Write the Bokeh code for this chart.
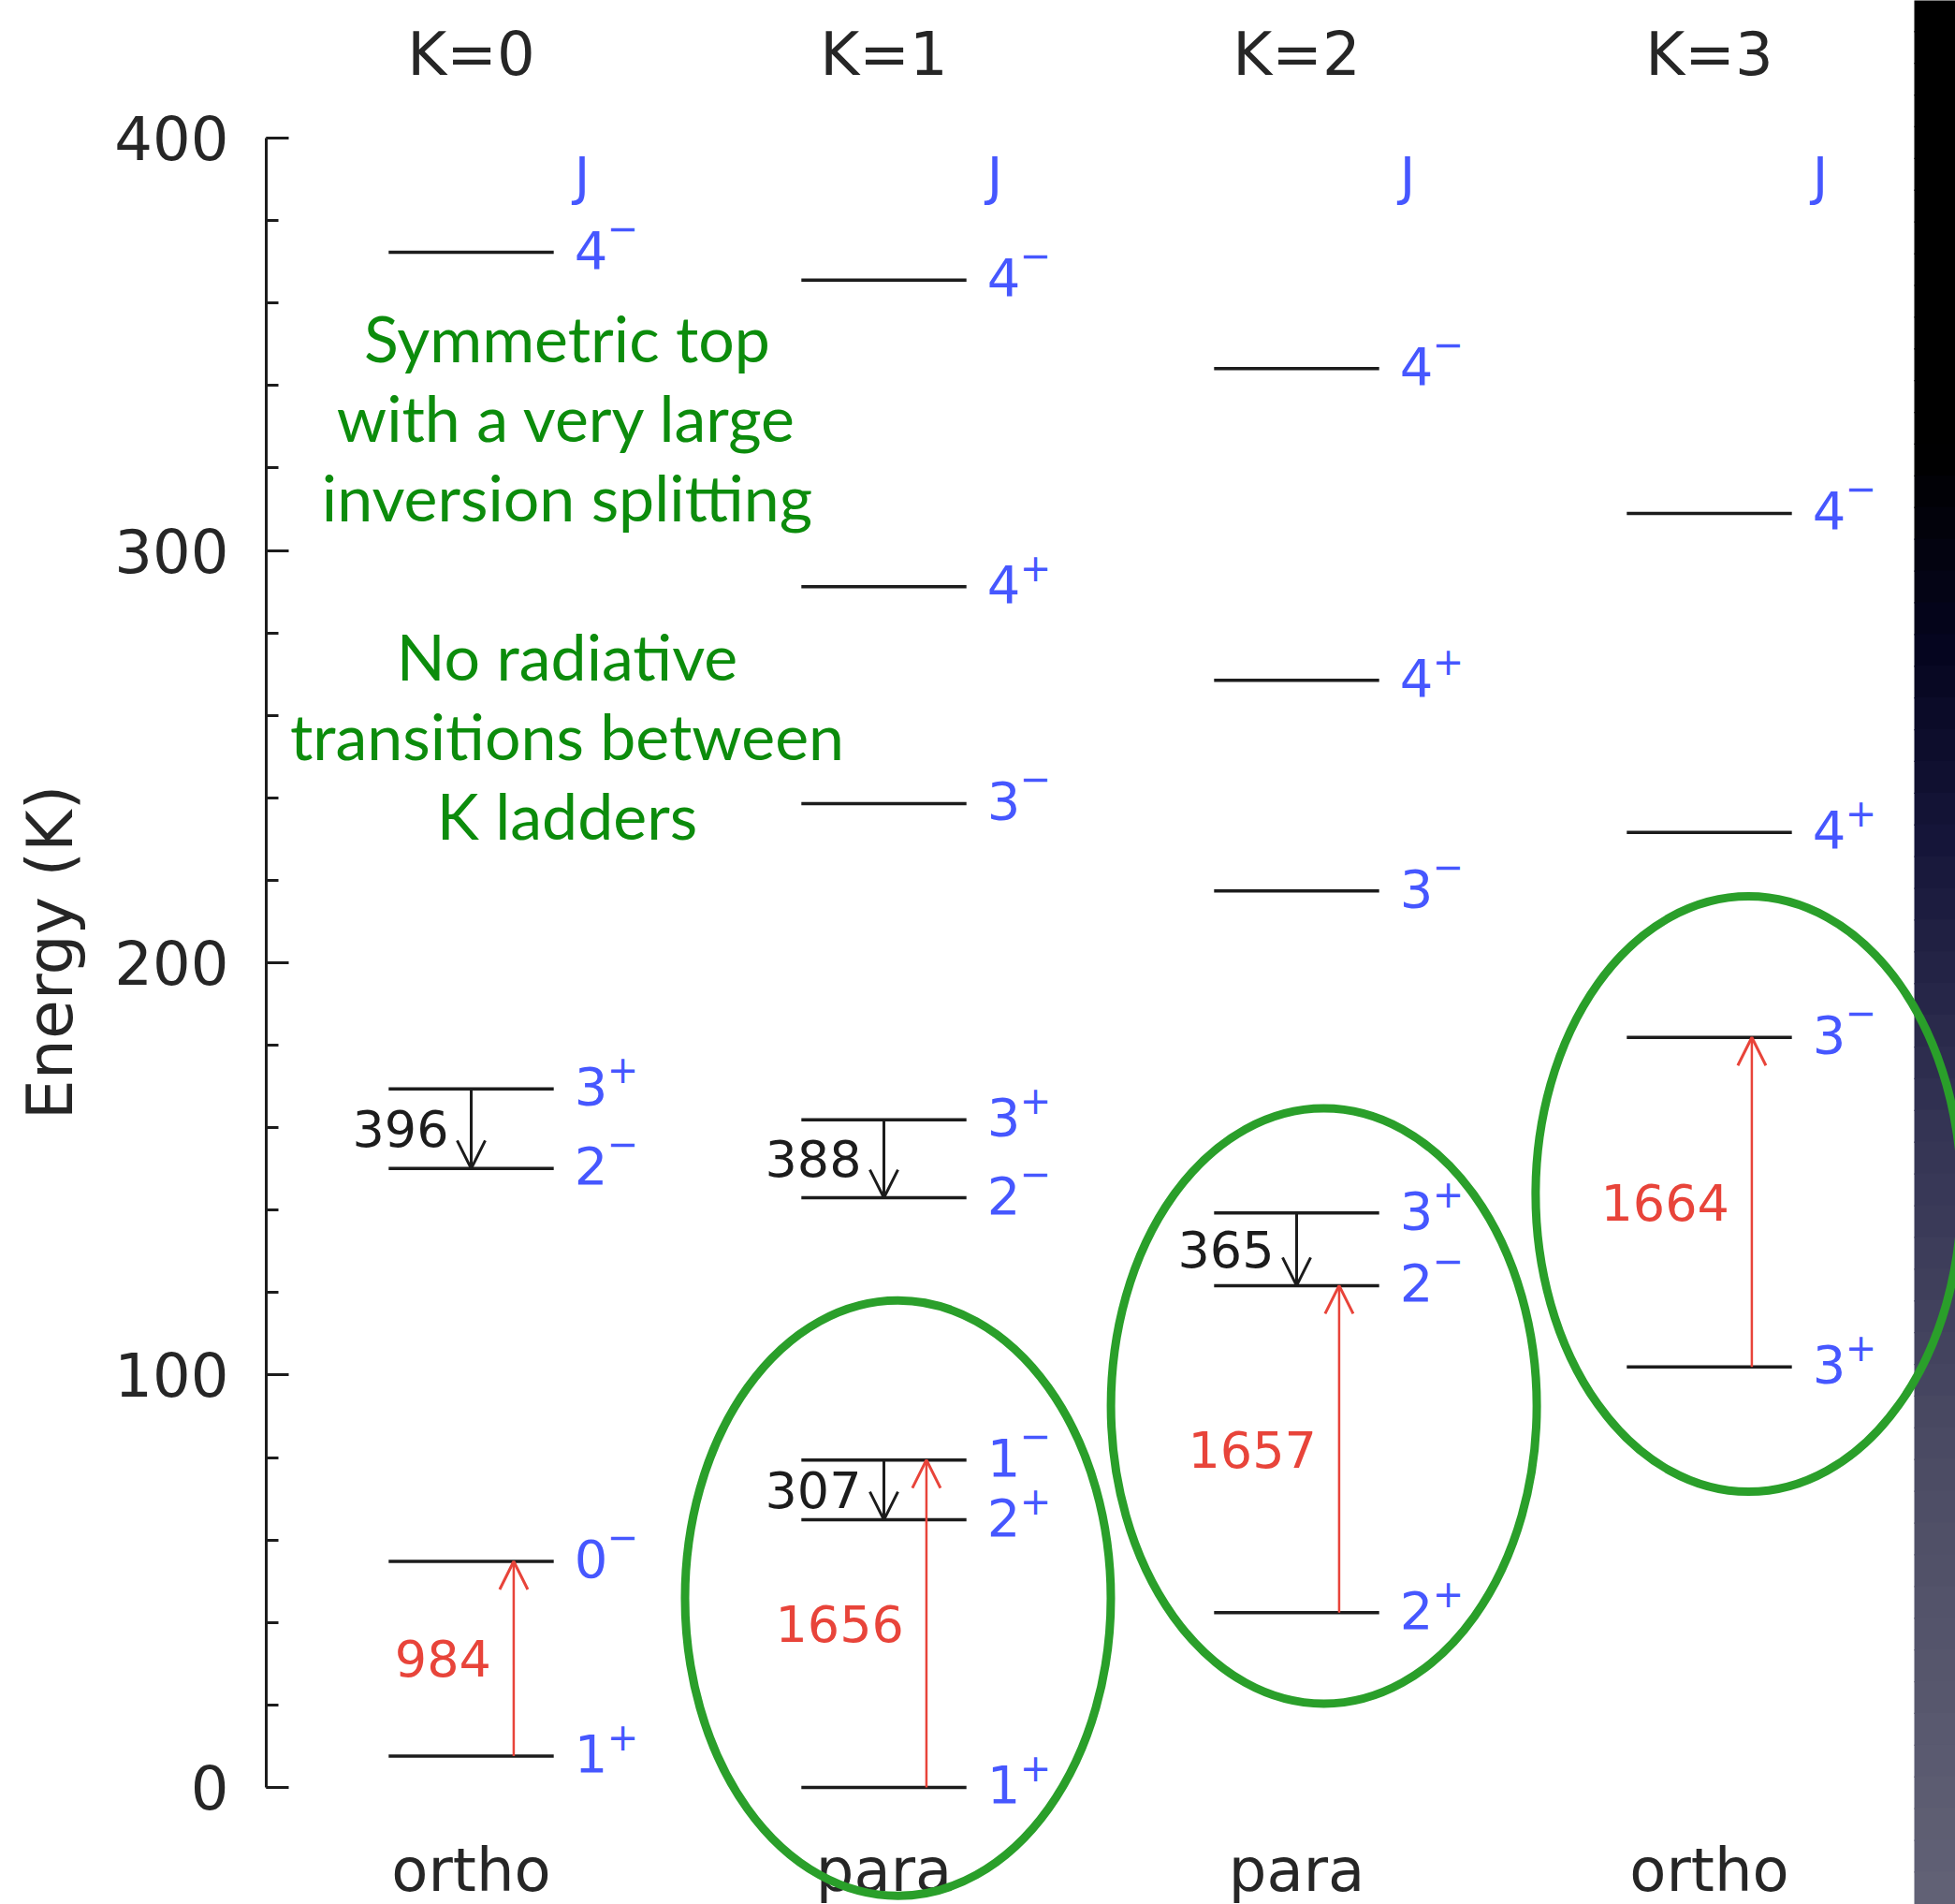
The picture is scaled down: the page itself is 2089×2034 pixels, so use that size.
import numpy as np
from bokeh.plotting import figure
from bokeh.models import (ColumnDataSource, Arrow, OpenHead, SingleIntervalTicker, Range1d)
from bokeh.core.properties import value
from bokeh.embed import file_html
from bokeh.resources import INLINE

# ------------------------------------------------------------------ data
LADDERS = ["K=0", "K=1", "K=2", "K=3"]
SPECIES = ["ortho", "para", "para", "ortho"]

# level energies (K), J and parity for each K ladder
K0_E = [7.6, 54.8, 150.1, 169.4, 372.3]
K0_J = ["1", "0", "2", "3", "4"]
K0_P = ["+", "−", "−", "+", "−"]

K1_E = [0.0, 64.9, 79.4, 143.0, 161.9, 238.6, 291.2, 365.6]
K1_J = ["1", "2", "1", "2", "3", "3", "4", "4"]
K1_P = ["+", "+", "−", "−", "+", "−", "+", "−"]

K2_E = [42.4, 121.7, 139.3, 217.4, 268.5, 344.1]
K2_J = ["2", "2", "3", "3", "4", "4"]
K2_P = ["+", "−", "+", "−", "+", "−"]

K3_E = [102.0, 181.9, 231.6, 309.0]
K3_J = ["3", "3", "4", "4"]
K3_P = ["+", "−", "+", "−"]

# inversion transitions within a J (black, downward), frequency in GHz
DOWN_K = [0, 1, 1, 2]
DOWN_HI = [169.4, 161.9, 79.4, 139.3]
DOWN_LO = [150.1, 143.0, 64.9, 121.7]
DOWN_LABEL = ["396", "388", "307", "365"]

# highlighted transitions (red, upward), frequency in GHz
UP_K = [0, 1, 2, 3]
UP_LO = [7.6, 0.0, 42.4, 102.0]
UP_HI = [54.8, 79.4, 121.7, 181.9]
UP_LABEL = ["984", "1656", "1657", "1664"]

NOTE_LINES = ["Symmetric top", "with a very large", "inversion splitting", "",
              "No radiative", "transitions between", "K ladders"]

# ------------------------------------------------------------------ layout constants
W, H = 2089, 2034
LEFT = 284
X_RANGE = (-0.4966, 3.5964)
Y_RANGE = (-28.4, 433.4)
PX_X = (W - LEFT) / (X_RANGE[1] - X_RANGE[0])
PX_Y = H / (Y_RANGE[1] - Y_RANGE[0])
HALF = 0.2          # half-width of a level bar
UP_DX = 0.103       # x shift of the red arrows
RING_X = [1.034, 2.066, 3.095]
RING_Y = [45.9, 92.5, 143.9]
TITLE_Y = 420.4
SPECIES_Y = -20.2
NOTE_Y0 = 351.7

BLUE = "#4657ff"
RED = "#e8443a"
INK = "#1c1c1c"
GREEN_T = "#0c8c0c"
GREEN_R = "#2a9f2a"

p = figure(width=W, height=H, output_backend="svg", toolbar_location=None,
           x_range=Range1d(*X_RANGE), y_range=Range1d(*Y_RANGE),
           x_axis_location=None, min_border_left=LEFT, min_border_right=0,
           min_border_top=0, min_border_bottom=0)
p.outline_line_color = None
p.grid.grid_line_color = None
p.background_fill_color = "white"
p.border_fill_color = "white"

# dark slide strip at the right edge
strip_left = X_RANGE[1] - (W - 2045) / PX_X
n_b = 60
edges_px = np.linspace(0, H, n_b + 1)
stops_px = [0, 480, 700, 900, 1200, 1600, H]
stops_r = [0, 0, 6, 22, 52, 78, 98]
stops_g = [0, 0, 6, 22, 52, 78, 98]
stops_b = [0, 0, 32, 58, 84, 102, 118]
cols = []
for a, b in zip(edges_px[:-1], edges_px[1:]):
    m = 0.5 * (a + b)
    cols.append("#%02x%02x%02x" % (int(np.interp(m, stops_px, stops_r)),
                                   int(np.interp(m, stops_px, stops_g)),
                                   int(np.interp(m, stops_px, stops_b))))
tops = Y_RANGE[1] - edges_px[:-1] / PX_Y
bots = Y_RANGE[1] - edges_px[1:] / PX_Y
p.quad(left=strip_left, right=X_RANGE[1] + 0.05, top=tops + 0.3, bottom=bots,
       fill_color=cols, line_color=None)

# levels
ladders = [(K0_E, K0_J, K0_P), (K1_E, K1_J, K1_P), (K2_E, K2_J, K2_P), (K3_E, K3_J, K3_P)]
lx, le, lj, lp = [], [], [], []
for k, (E, J, P) in enumerate(ladders):
    lx += [k] * len(E)
    le += E
    lj += J
    lp += P
lev = ColumnDataSource(dict(x0=[x - HALF for x in lx], x1=[x + HALF for x in lx],
                            xr=[x + HALF for x in lx], y=le, j=lj, par=lp,
                            soff=[-27 if s == "−" else -21 for s in lp]))
p.segment(x0="x0", x1="x1", y0="y", y1="y", source=lev, line_color=INK, line_width=3.5)
p.text(x="xr", y="y", text="j", source=lev, x_offset=22, y_offset=-3,
       text_font=value("DejaVu Sans"), text_font_size="56px", text_color=BLUE,
       text_align="left", text_baseline="middle")
p.text(x="xr", y="y", text="par", source=lev, x_offset=57, y_offset="soff",
       text_font=value("DejaVu Sans"), text_font_size="40px", text_color=BLUE,
       text_align="left", text_baseline="middle")

# J headers
p.text(x=[k + HALF for k in range(4)], y=[391] * 4, text=["J"] * 4, x_offset=22,
       text_font=value("DejaVu Sans"), text_font_size="56px", text_color=BLUE,
       text_align="left", text_baseline="middle")

# ladder titles and species
p.text(x=list(range(4)), y=[TITLE_Y] * 4, text=LADDERS,
       text_font=value("DejaVu Sans"), text_font_size="64px", text_color="#262626",
       text_align="center", text_baseline="alphabetic")
p.text(x=list(range(4)), y=[SPECIES_Y] * 4, text=SPECIES,
       text_font=value("DejaVu Sans"), text_font_size="64px", text_color="#262626",
       text_align="center", text_baseline="alphabetic")

# black downward inversion arrows
dn = ColumnDataSource(dict(x=DOWN_K, y0=DOWN_HI, y1=DOWN_LO,
                           ym=[(a + b) / 2 for a, b in zip(DOWN_HI, DOWN_LO)], t=DOWN_LABEL))
p.add_layout(Arrow(end=OpenHead(size=30, line_color=INK, line_width=3),
                   x_start="x", y_start="y0", x_end="x", y_end="y1", source=dn,
                   line_color=INK, line_width=3))
p.text(x="x", y="ym", text="t", source=dn, x_offset=-24,
       text_font=value("DejaVu Sans"), text_font_size="54px", text_color=INK,
       text_align="right", text_baseline="middle")

# red upward arrows
upx = [k + UP_DX for k in UP_K]
up = ColumnDataSource(dict(x=upx, y0=UP_LO, y1=UP_HI,
                           ym=[(a + b) / 2 for a, b in zip(UP_LO, UP_HI)], t=UP_LABEL))
p.add_layout(Arrow(end=OpenHead(size=30, line_color=RED, line_width=3),
                   x_start="x", y_start="y0", x_end="x", y_end="y1", source=up,
                   line_color=RED, line_width=2.5))
p.text(x="x", y="ym", text="t", source=up, x_offset=-24,
       text_font=value("DejaVu Sans"), text_font_size="54px", text_color=RED,
       text_align="right", text_baseline="middle")

# green note
step = 85 / PX_Y
p.text(x=[0.2324] * len(NOTE_LINES), y=[NOTE_Y0 - i * step for i in range(len(NOTE_LINES))],
       text=NOTE_LINES, text_font=value("Lato"), text_font_size="68px",
       text_color=GREEN_T, text_align="center", text_baseline="alphabetic")

# highlight rings
p.ellipse(x=RING_X, y=RING_Y, width=455 / PX_X, height=636 / PX_Y,
          fill_color=None, line_color=GREEN_R, line_width=9)

# y axis
ax = p.yaxis[0]
ax.ticker = SingleIntervalTicker(interval=100, num_minor_ticks=5)
ax.bounds = (0, 400)
ax.major_tick_in = 24
ax.major_tick_out = 0
ax.minor_tick_in = 13
ax.minor_tick_out = 0
ax.axis_line_width = 3
ax.major_tick_line_width = 3
ax.minor_tick_line_width = 3
ax.axis_line_color = INK
ax.major_tick_line_color = INK
ax.minor_tick_line_color = INK
ax.major_label_standoff = 40
ax.major_label_text_font = "DejaVu Sans"
ax.major_label_text_font_size = "64px"
ax.major_label_text_color = "#262626"
ax.axis_label = "Energy (K)"
ax.axis_label_text_font = "DejaVu Sans"
ax.axis_label_text_font_size = "68px"
ax.axis_label_text_font_style = "normal"
ax.axis_label_text_color = "#262626"
ax.axis_label_standoff = 26

open("out.html", "w").write(file_html(p, INLINE))
